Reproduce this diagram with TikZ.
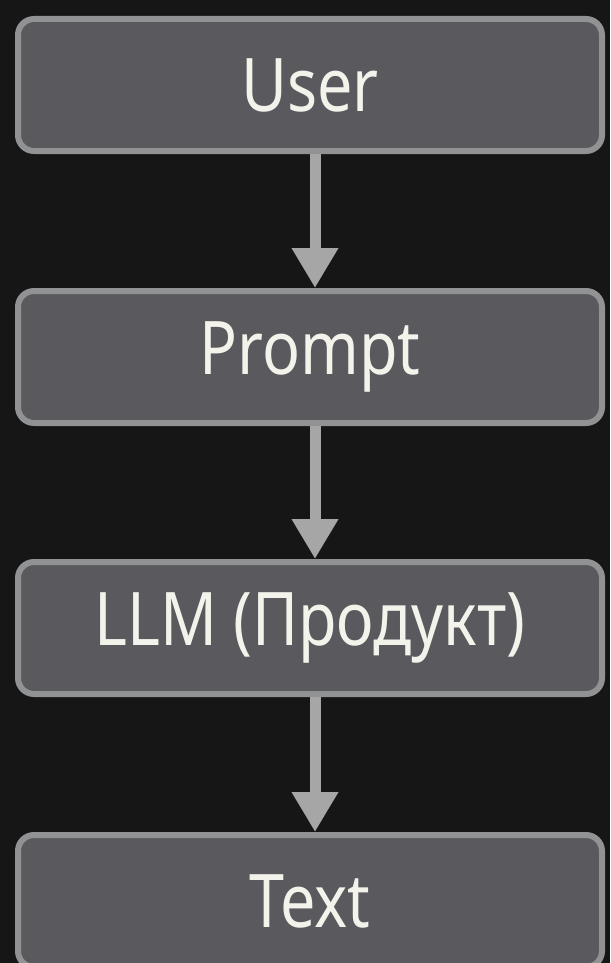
\documentclass[tikz,border=0pt]{standalone}
\usepackage{fontspec}
\setmainfont[FakeStretch=0.85]{Noto Sans}
\usetikzlibrary{arrows.meta}
\definecolor{bgdark}{HTML}{161616}
\definecolor{boxfill}{HTML}{5A5A5E}
\definecolor{boxedge}{HTML}{909294}
\definecolor{arrowgray}{HTML}{A6A6A6}
\definecolor{labelwhite}{HTML}{F3F3EC}
\tikzset{
  flowbox/.style={draw=boxedge, fill=boxfill, line width=6pt, rounded corners=16pt,
    minimum width=584pt, minimum height=132pt, inner sep=0pt,
    text=labelwhite, font=\fontsize{74}{82}\selectfont},
  flowarrow/.style={draw=arrowgray, line width=11pt,
    -{Triangle[width=44pt,length=40pt]}}
}
\begin{document}
\begin{tikzpicture}[x=1pt,y=1pt]
  \fill[bgdark] (0,0) rectangle (610,-963);
  \useasboundingbox (0,0) rectangle (610,-963);
  \node[flowbox] (user)   at (310,-85)  {User};
  \node[flowbox] (prompt) at (310,-357) {Prompt};
  \node[flowbox] (llm)    at (310,-628) {LLM (Продукт)};
  \node[flowbox] (text)   at (310,-901) {Text};
  \draw[flowarrow] ([xshift=5pt]user.south)   -- ([xshift=5pt]prompt.north);
  \draw[flowarrow] ([xshift=5pt]prompt.south) -- ([xshift=5pt]llm.north);
  \draw[flowarrow] ([xshift=5pt]llm.south)    -- ([xshift=5pt]text.north);
\end{tikzpicture}
\end{document}
